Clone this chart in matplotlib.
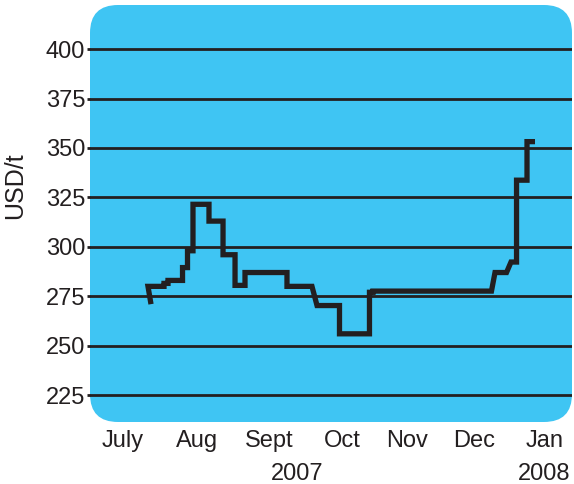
#!/usr/bin/env python3
"""
Price of the commodity in USD per tonne, July 2007 to January 2008,
drawn as a thick step line on a rounded blue panel.
"""

import numpy as np
import matplotlib
matplotlib.use("Agg")
import matplotlib.pyplot as plt
from matplotlib.patches import FancyBboxPatch
import matplotlib.transforms as mtransforms

# Data (x in months after 1 July 2007, price in USD/t)
# ----------------------------------------------------------------------
MONTHS = [0.869, 0.826, 1.026, 1.054, 1.054, 1.111, 1.111, 1.318, 1.318,
          1.389, 1.389, 1.467, 1.467, 1.695, 1.695, 1.895, 1.895, 2.066,
          2.066, 2.208, 2.208, 2.806, 2.806, 3.162, 3.234, 3.554, 3.554,
          3.981, 3.981, 4.031, 4.031, 5.719, 5.769, 5.933, 5.997, 6.076,
          6.076, 6.225, 6.225, 6.339]
PRICE = [271.0, 280.0, 280.0, 280.0, 281.5, 281.5, 283.0, 283.0, 289.5,
         289.5, 298.0, 298.0, 321.5, 321.5, 313.0, 313.0, 296.0, 296.0,
         280.5, 280.5, 287.0, 287.0, 280.0, 280.0, 270.3, 270.3, 256.0,
         256.0, 277.0, 277.0, 277.6, 277.6, 287.0, 287.0, 292.3, 292.3,
         333.7, 333.7, 353.2, 353.2]

MONTH_POS = [0.47, 1.52, 2.55, 3.59, 4.52, 5.47, 6.48]
MONTH_LABELS = ["July", "Aug", "Sept", "Oct", "Nov", "Dec", "Jan"]
YEAR_POS = [2.95, 6.47]
YEAR_LABELS = ["2007", "2008"]
Y_TICKS = [225, 250, 275, 300, 325, 350, 375, 400]
# ----------------------------------------------------------------------

PANEL = "#3fc5f3"
INK = "#231f20"
FONTSIZE = 17

plt.rcParams["font.family"] = ["Liberation Sans", "DejaVu Sans"]

fig = plt.figure(figsize=(5.74, 4.84), dpi=100)
ax = fig.add_axes([90 / 574, 62 / 484, 482 / 574, 417 / 484])
ax.patch.set_visible(False)
for s in ax.spines.values():
    s.set_visible(False)

# rounded blue panel behind everything
w_px, h_px = 482.0, 417.0
panel = FancyBboxPatch((0, 0), 1, 1, transform=ax.transAxes,
                       boxstyle="round,pad=0,rounding_size=%f" % (28 / w_px),
                       mutation_aspect=w_px / h_px,
                       facecolor=PANEL, edgecolor="none", zorder=0,
                       clip_on=False)
ax.add_patch(panel)

ax.set_xlim(0, 6.866)
ax.set_ylim(211.4, 422.3)

for v in Y_TICKS:
    ax.axhline(v, color=INK, lw=2.0, zorder=1)

ax.plot(MONTHS, PRICE, color=INK, lw=3.8, solid_joinstyle="miter",
        solid_capstyle="butt", zorder=3)

ax.set_yticks(Y_TICKS)
ax.set_yticklabels([str(v) for v in Y_TICKS])
ax.tick_params(axis="y", length=2.5, width=2.0, color=INK, pad=1,
               labelsize=FONTSIZE, labelcolor=INK)
ax.set_xticks(MONTH_POS)
ax.set_xticklabels(MONTH_LABELS)
ax.tick_params(axis="x", length=0, pad=6, labelsize=FONTSIZE,
               labelcolor=INK)

ax.set_ylabel("USD/t", fontsize=18, color=INK)
ax.yaxis.set_label_coords(-0.130, 0.566)

trans = mtransforms.blended_transform_factory(ax.transData, ax.transAxes)
for xp, lab in zip(YEAR_POS, YEAR_LABELS):
    ax.text(xp, -0.124, lab, transform=trans, ha="center", va="center",
            fontsize=FONTSIZE, color=INK)

fig.savefig("out.png", dpi=100)
